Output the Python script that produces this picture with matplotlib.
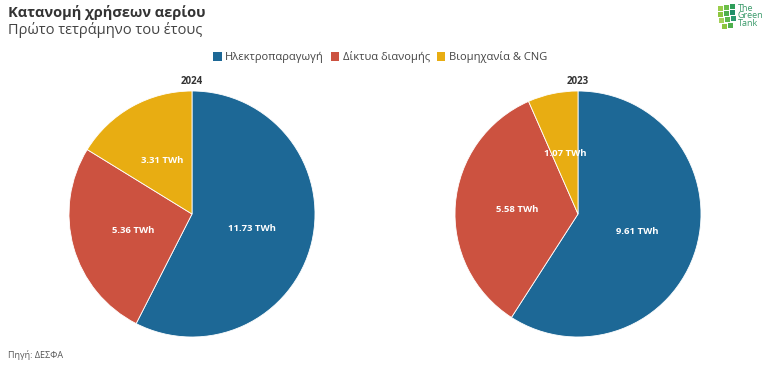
import matplotlib
matplotlib.use("Agg")
import matplotlib.pyplot as plt
from matplotlib.patches import Rectangle

plt.rcParams['font.family'] = ['Open Sans', 'DejaVu Sans']

categories = ["Ηλεκτροπαραγωγή", "Δίκτυα διανομής", "Βιομηχανία & CNG"]
colors = ["#1d6896", "#cc5240", "#e8ad12"]
years = ["2024", "2023"]
values_2024 = [11.73, 5.36, 3.31]
values_2023 = [9.61, 5.58, 1.07]
all_values = [values_2024, values_2023]

fig = plt.figure(figsize=(7.68, 3.75), dpi=100)
fig.patch.set_facecolor("white")

W, H = 768, 375
r = 123
centers = [(192, 214), (578, 214)]
for (cx, cy), yr, vals in zip(centers, years, all_values):
    ax = fig.add_axes([(cx - r) / W, 1 - (cy + r) / H, 2 * r / W, 2 * r / H])
    wedges, texts = ax.pie(vals, colors=colors, startangle=90, counterclock=False,
                           labels=[f"{v:.2f} TWh" for v in vals], labeldistance=0.5,
                           wedgeprops=dict(linewidth=0.6, edgecolor="white"),
                           textprops=dict(color="white", fontsize=6.8, fontweight="bold",
                                          ha="center", va="center"))
    ax.set_aspect("equal")
    ax.set_xlim(-1, 1)
    ax.set_ylim(-1, 1)
    fig.text(cx / W, 1 - 82 / H, yr, ha="center", va="center", fontsize=7,
             fontweight="bold", color="#333333")

fig.text(8 / W, 1 - 12 / H, "Κατανομή χρήσεων αερίου", ha="left", va="center",
         fontsize=10.5, fontweight="bold", color="#333333")
fig.text(8 / W, 1 - 30 / H, "Πρώτο τετράμηνο του έτους", ha="left", va="center",
         fontsize=10.5, color="#444444")
fig.text(8 / W, 1 - 355 / H, "Πηγή: ΔΕΣΦΑ", ha="left", va="center",
         fontsize=6.5, color="#555555")

# legend
handles = [Rectangle((0, 0), 1, 1, facecolor=c) for c in colors]
fig.legend(handles, categories, loc="center", bbox_to_anchor=(380 / W, 1 - 57 / H),
           ncol=3, frameon=False, fontsize=8, handlelength=0.8, handleheight=0.9,
           handletextpad=0.3, columnspacing=0.6, labelcolor="#444444")

# logo
logo_sq = [(718, 6, "#9acd4a"), (724, 5, "#6cbf4a"), (730, 4, "#2f9e5a"),
           (718, 12, "#8cc63f"), (724, 11, "#4fb04d"), (730, 10, "#1f8f6a"),
           (719, 18, "#a5d15a"), (725, 17, "#5fb84c"), (731, 16, "#2a9a70"),
           (722, 24, "#8cc63f"), (728, 23, "#4fb04d")]
for x, y, c in logo_sq:
    fig.patches.append(Rectangle((x / W, 1 - (y + 5) / H), 5 / W, 5 / H,
                                 transform=fig.transFigure, facecolor=c,
                                 edgecolor="none"))
fig.text(738 / W, 1 - 16 / H, "The\nGreen\nTank", ha="left", va="center",
         fontsize=6.5, color="#3a9a6a", linespacing=0.85)

fig.savefig("out.png", dpi=100)
